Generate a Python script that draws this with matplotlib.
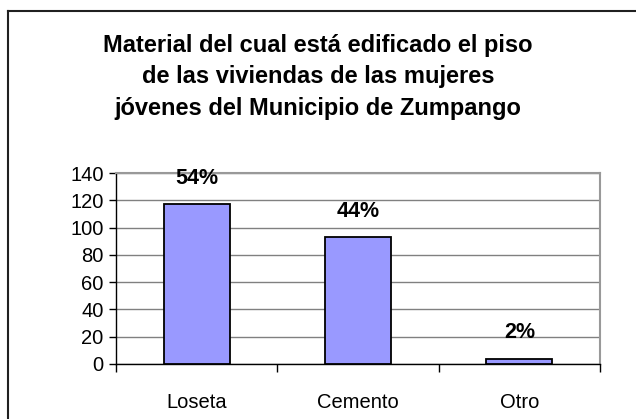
import matplotlib
matplotlib.use("Agg")
import matplotlib.pyplot as plt
from matplotlib.lines import Line2D

# Data
categories = ["Loseta", "Cemento", "Otro"]
counts = [117, 93, 4]
pct_labels = ["54%", "44%", "2%"]
title = ("Material del cual está edificado el piso\n"
         "de las viviendas de las mujeres\n"
         "jóvenes del Municipio de Zumpango")

plt.rcParams["font.family"] = ["Liberation Sans", "DejaVu Sans"]

fig = plt.figure(figsize=(6.36, 4.19), dpi=100)
ax = fig.add_axes([0.1824, 0.1313, 0.7610, 0.4558])

# outer chart border (only top and left edges show, the rest is cropped)
bx, by = 7.5 / 636, 1 - 11 / 419
fig.lines.append(Line2D([bx, 1.0], [by, by], transform=fig.transFigure,
                        color="#202020", linewidth=1.5))
fig.lines.append(Line2D([bx, bx], [0.0, by], transform=fig.transFigure,
                        color="#202020", linewidth=1.5))

x = range(len(categories))
bars = ax.bar(x, counts, width=0.41, color="#9999FF",
              edgecolor="black", linewidth=1.3, zorder=3)

for bar, lab in zip(bars, pct_labels):
    ax.annotate(lab, (bar.get_x() + bar.get_width() / 2, bar.get_height()),
                xytext=(0, 14.5), textcoords="offset points",
                ha="center", va="baseline", fontsize=15.5, fontweight="bold")

ax.set_xlim(-0.5, 2.5)
ax.set_ylim(0, 140)
ax.set_yticks(range(0, 141, 20))
ax.set_xticks([0, 1, 2])
ax.set_xticklabels(categories, fontsize=14.5)
ax.set_xticks([-0.5, 0.5, 1.5, 2.5], minor=True)
ax.tick_params(axis="x", which="major", length=0, pad=21)
ax.tick_params(axis="x", which="minor", length=6, width=1, direction="out")
ax.tick_params(axis="y", labelsize=14.5, length=5, width=1, pad=4)

ax.grid(True, axis="y", color="#808080", linewidth=1, zorder=0)
for side in ("top", "right"):
    ax.spines[side].set_color("#999999")
    ax.spines[side].set_linewidth(1.5)
for side in ("left", "bottom"):
    ax.spines[side].set_color("black")
    ax.spines[side].set_linewidth(1)

fig.text(0.5, 0.92, title, ha="center", va="top", fontsize=17,
         fontweight="bold", linespacing=1.48)

fig.savefig("out.png", dpi=100)
